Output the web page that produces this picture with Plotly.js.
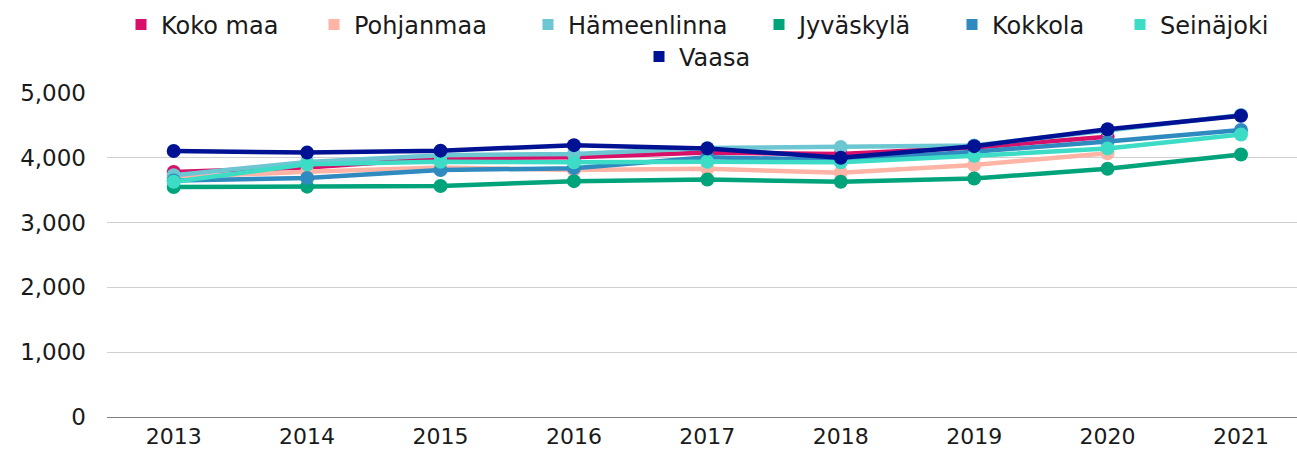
<!DOCTYPE html>
<html>
<head>
<meta charset="utf-8">
<script src="https://cdn.plot.ly/plotly-3.0.1.min.js"></script>
<style>html,body{margin:0;padding:0;background:#fff;}#chart{width:1297px;height:452px;}</style>
</head>
<body>
<div id="chart"></div>
<script>
const years = ["2013","2014","2015","2016","2017","2018","2019","2020","2021"];
const kokoMaa     = [3780, 3850, 3990, 4010, 4080, 4060, 4160, 4325, null];
const pohjanmaa   = [3700, 3785, 3850, 3810, 3830, 3770, 3890, 4070, null];
const hameenlinna = [3730, 3935, 4040, 4060, 4150, 4165, 4190, 4420, 4660];
const jyvaskyla   = [3550, 3555, 3565, 3640, 3665, 3630, 3680, 3830, 4050];
const kokkola     = [3650, 3690, 3810, 3840, 4010, 3965, 4095, 4250, 4430];
const seinajoki   = [3630, 3900, 3940, 3930, 3940, 3930, 4030, 4145, 4360];
const vaasa       = [4105, 4080, 4110, 4195, 4145, 4000, 4180, 4440, 4650];
const yTicks = [0, 1000, 2000, 3000, 4000, 5000];

const series = [
  {name: "Koko maa", y: kokoMaa, color: "#D9106A"},
  {name: "Pohjanmaa", y: pohjanmaa, color: "#FFB4A6"},
  {name: "Hämeenlinna", y: hameenlinna, color: "#6CC7D2"},
  {name: "Jyväskylä", y: jyvaskyla, color: "#00A37A"},
  {name: "Kokkola", y: kokkola, color: "#2E8ABF"},
  {name: "Seinäjoki", y: seinajoki, color: "#3CDCC6"},
  {name: "Vaasa", y: vaasa, color: "#001294"}
];

// legend placement (pixel centre of each legend square, row)
const legendPos = [[142, 0], [335, 0], [549, 0], [780, 0], [973, 0], [1141, 0], [660, 1]];

const font = "DejaVu Sans, sans-serif";
const plotL = 107, plotW = 1190, plotT = 93, plotH = 324;

const traces = [];
series.forEach(s => {
  traces.push({
    type: "scatter", mode: "lines+markers", x: years, y: s.y, name: s.name,
    showlegend: false,
    line: {color: s.color, width: 4.5},
    marker: {color: s.color, size: 14},
    connectgaps: false
  });
});

const layout = {
  width: 1297, height: 452,
  margin: {l: plotL, r: 1297 - plotL - plotW, t: plotT, b: 452 - plotT - plotH},
  paper_bgcolor: "#fff", plot_bgcolor: "#fff",
  font: {family: font, size: 23, color: "#1a1a1a"},
  showlegend: true,
  xaxis: {
    type: "category", range: [-0.5, 8.42],
    showgrid: false, zeroline: false,
    showline: true, linecolor: "#7f7f7f", linewidth: 1,
    ticks: "", ticklabelstandoff: 0,
    tickfont: {family: font, size: 22, color: "#1a1a1a"}
  },
  yaxis: {
    range: [0, 5000], tickvals: yTicks, tickformat: ",",
    showgrid: true, gridcolor: "#d0d0d0", gridwidth: 1,
    zeroline: false, showline: false, ticks: "",
    ticklabelstandoff: 20,
    tickfont: {family: font, size: 23, color: "#1a1a1a"}
  }
};

series.forEach((s, i) => {
  const key = i === 0 ? "legend" : "legend" + (i + 1);
  const px = legendPos[i][0], row = legendPos[i][1];
  const py = row === 0 ? 25 : 57;
  traces.push({
    type: "scatter", mode: "markers", x: [null], y: [null], name: s.name,
    showlegend: true, legend: key,
    marker: {color: s.color, size: 11, symbol: "square"}
  });
  layout[key] = {
    orientation: "h",
    x: (px - 21 - plotL) / plotW, xanchor: "left",
    y: (plotT + plotH - py) / plotH, yanchor: "middle",
    font: {family: font, size: 24, color: "#1a1a1a"},
    bgcolor: "rgba(0,0,0,0)", borderwidth: 0
  };
});

Plotly.newPlot("chart", traces, layout, {displayModeBar: false, staticPlot: true});
</script>
</body>
</html>
